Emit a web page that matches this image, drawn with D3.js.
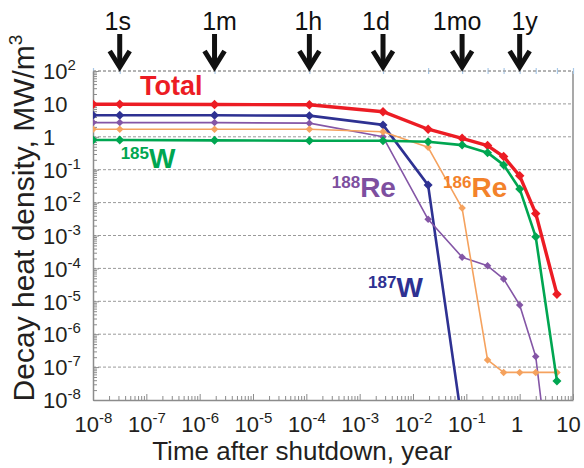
<!DOCTYPE html>
<html>
<head>
<meta charset="utf-8">
<script src="https://cdn.jsdelivr.net/npm/d3@7"></script>
<style>
  body { margin: 0; background: #fff; }
  svg { display: block; font-family: "Liberation Sans", Arial, sans-serif; }
</style>
</head>
<body>
<svg id="chart" width="584" height="468"></svg>
<script>
// time after shutdown (years): 0, 1 s, 1 min, 1 h, 1 d, 1 wk, 1 mo, 3 mo, 6 mo, 1 y, 2 y, 5 y
const timeYears = [1e-8, 3.17e-8, 1.9e-6, 1.14e-4, 2.74e-3, 1.92e-2, 8.33e-2, 0.25, 0.5, 1, 2, 5];

// decay heat density, MW/m3
const total = [9.8, 9.8, 9.6, 9.4, 5.8, 1.7, 0.9, 0.54, 0.25, 0.065, 0.0047, 1.65e-5];
const w187  = [4.5, 4.5, 4.5, 4.4, 2.3, 0.034, 2e-9];
const re188 = [2.7, 2.7, 2.7, 2.6, 1.0, 3.1e-3, 2.2e-4, 1.2e-4, 4.8e-5, 7.7e-6, 2.1e-7, 1e-12];
const re186 = [1.7, 1.7, 1.7, 1.7, 1.43, 0.48, 6.8e-3, 1.65e-7, 6.9e-8, 6.9e-8, 6.9e-8, 6.9e-8];
const w185  = [0.8, 0.8, 0.78, 0.76, 0.76, 0.71, 0.56, 0.33, 0.14, 0.026, 9.1e-4, 3.8e-8];

const markTimes  = [3.17e-8, 1.9e-6, 1.14e-4, 2.74e-3, 8.33e-2, 1];
const markLabels = ["1s", "1m", "1h", "1d", "1mo", "1y"];

const xDecades = [1e-8, 1e-7, 1e-6, 1e-5, 1e-4, 1e-3, 1e-2, 1e-1, 1, 10];
const yDecades = [1e-8, 1e-7, 1e-6, 1e-5, 1e-4, 1e-3, 1e-2, 1e-1, 1, 10, 100];

const series = [
  { name: "Total", values: total, color: "#ec1c24", width: 3.4, size: 9.5 },
  { name: "187W",  values: w187,  color: "#2e3192", width: 2.6, size: 9 },
  { name: "188Re", values: re188, color: "#8456a6", width: 1.6, size: 7.5 },
  { name: "186Re", values: re186, color: "#f5a25e", width: 1.6, size: 7.5 },
  { name: "185W",  values: w185,  color: "#00a651", width: 2.6, size: 9 }
];

// text annotations placed in data coordinates (x in years, y in MW/m3 at baseline)
const notes = [
  { sup: "",    main: "Total", x: 7.6e-8, y: 18.6,   color: "#ec1c24" },
  { sup: "185", main: "W",     x: 3.3e-8, y: 0.113,  color: "#00a651" },
  { sup: "188", main: "Re",    x: 3.0e-4, y: 0.0151, color: "#7d4f9f" },
  { sup: "186", main: "Re",    x: 0.0366, y: 0.0151, color: "#f3822a" },
  { sup: "187", main: "W",     x: 1.44e-3, y: 1.32e-5, color: "#2e3192" }
];
const arrowLabelDx = [-2, 5, -1, -7, -5, 5];

const plotL = 93, plotR = 573, plotT = 71, plotB = 400;
const svg = d3.select("#chart");

const x = d3.scaleLog().domain([1e-8, 10]).range([plotL, plotR]);
const y = d3.scaleLog().domain([1e-8, 100]).range([plotB, plotT]);

const grey = "#8c8c8c";
const ink = "#231f20";

// minor tick positions
const minors = [];
for (let e = -8; e < 2; e++) for (let k = 2; k <= 9; k++) minors.push(k * Math.pow(10, e));
const xMinors = minors.filter(v => v > 1e-8 && v < 10);
const yMinors = minors.filter(v => v > 1e-8 && v < 100);

// horizontal dashed grid
svg.append("g")
  .selectAll("line")
  .data(yDecades.filter(v => v > 1e-8))
  .enter().append("line")
  .attr("x1", plotL).attr("x2", plotR)
  .attr("y1", d => y(d)).attr("y2", d => y(d))
  .attr("stroke", "#9a9a9a")
  .attr("stroke-width", 1)
  .attr("stroke-dasharray", "3,2");

// right border
svg.append("line")
  .attr("x1", plotR).attr("x2", plotR).attr("y1", plotT).attr("y2", plotB)
  .attr("stroke", grey).attr("stroke-width", 1.5);

// top axis: light blue ticks at sample times
svg.append("g")
  .attr("transform", `translate(0,${plotT})`)
  .call(d3.axisTop(x).tickValues(timeYears.concat([10])).tickFormat(() => "").tickSize(3).tickSizeOuter(0))
  .call(g => g.select(".domain").remove())
  .call(g => g.selectAll(".tick line").attr("y2", -3).attr("y1", 3).attr("stroke", "#a9c9e8").attr("stroke-width", 1.2));

// minor ticks (separate groups so their empty labels stay untouched)
svg.append("g")
  .attr("transform", `translate(0,${plotB})`)
  .call(d3.axisBottom(x).tickValues(xMinors).tickFormat(() => "").tickSize(-4).tickSizeOuter(0))
  .call(g => g.select(".domain").remove())
  .call(g => g.selectAll(".tick line").attr("stroke", grey));
svg.append("g")
  .attr("transform", `translate(${plotL},0)`)
  .call(d3.axisLeft(y).tickValues(yMinors).tickFormat(() => "").tickSize(-4).tickSizeOuter(0))
  .call(g => g.select(".domain").remove())
  .call(g => g.selectAll(".tick line").attr("stroke", grey));

// bottom axis
const xAxis = svg.append("g").attr("transform", `translate(0,${plotB})`);
xAxis.call(d3.axisBottom(x).tickValues(xDecades).tickSize(-6).tickSizeOuter(0).tickFormat(d => d))
  .call(g => g.select(".domain").attr("stroke", grey).attr("stroke-width", 1.5))
  .call(g => g.selectAll(".tick line").attr("stroke", grey));

// left axis
const yAxis = svg.append("g").attr("transform", `translate(${plotL},0)`);
yAxis.call(d3.axisLeft(y).tickValues(yDecades).tickSize(-6).tickSizeOuter(0).tickFormat(d => d))
  .call(g => g.select(".domain").attr("stroke", grey).attr("stroke-width", 1.5))
  .call(g => g.selectAll(".tick line").attr("stroke", grey));

// top border dashed
svg.append("line")
  .attr("x1", plotL).attr("x2", plotR).attr("y1", plotT).attr("y2", plotT)
  .attr("stroke", "#9a9a9a").attr("stroke-dasharray", "3,2");

function powLabel(sel, v, supSize, supDy) {
  const e = Math.round(Math.log10(v));
  sel.text(null);
  if (e === 0) { sel.append("tspan").text("1"); return; }
  if (e === 1) { sel.append("tspan").text("10"); return; }
  sel.append("tspan").text("10");
  sel.append("tspan").attr("font-size", supSize).attr("dy", supDy).text(String(e));
}

xAxis.selectAll(".tick text")
  .attr("y", 32).attr("dy", 0)
  .attr("x", d => d >= 10 ? -5 : (d >= 1 ? -3 : 0))
  .attr("font-size", 22).attr("fill", ink)
  .attr("font-family", "Liberation Sans, Arial, sans-serif")
  .each(function(d) { powLabel(d3.select(this), d, 15, -9); });

yAxis.selectAll(".tick text")
  .attr("x", 43 - plotL).attr("dy", "0.35em")
  .attr("text-anchor", "start")
  .attr("font-size", 22).attr("fill", ink)
  .attr("font-family", "Liberation Sans, Arial, sans-serif")
  .each(function(d) { powLabel(d3.select(this), d, 15, -9); });

// axis titles
svg.append("text")
  .attr("x", 302).attr("y", 460)
  .attr("text-anchor", "middle")
  .attr("font-size", 26).attr("fill", ink)
  .text("Time after shutdown, year");

const yt = svg.append("text")
  .attr("transform", "translate(34,218) rotate(-90)")
  .attr("text-anchor", "middle")
  .attr("font-size", 30).attr("fill", ink);
yt.append("tspan").text("Decay heat density, MW/m");
yt.append("tspan").attr("font-size", 19).attr("dy", -12).text("3");

// data lines, clipped to plot
svg.append("clipPath").attr("id", "plotclip")
  .append("rect").attr("x", plotL).attr("y", plotT).attr("width", plotR - plotL).attr("height", plotB - plotT);

const line = d3.line().x(d => x(d[0])).y(d => y(d[1]));
const plot = svg.append("g").attr("clip-path", "url(#plotclip)");

series.forEach(s => {
  const pts = s.values.map((v, i) => [timeYears[i], v]);
  plot.append("path")
    .datum(pts)
    .attr("d", line)
    .attr("fill", "none")
    .attr("stroke", s.color)
    .attr("stroke-width", s.width)
    .attr("stroke-linejoin", "round");
  plot.selectAll(null)
    .data(pts)
    .enter().append("path")
    .attr("transform", d => `translate(${x(d[0])},${y(d[1])})`)
    .attr("d", `M0,${-s.size / 2}L${s.size / 2},0L0,${s.size / 2}L${-s.size / 2},0Z`)
    .attr("fill", s.color);
});

// species labels
notes.forEach(n => {
  const t = svg.append("text")
    .attr("x", x(n.x)).attr("y", y(n.y))
    .attr("fill", n.color)
    .attr("font-weight", "bold");
  if (n.sup) {
    t.append("tspan").attr("font-size", 17).attr("dy", -9).text(n.sup);
    t.append("tspan").attr("font-size", 28).attr("dy", 9).text(n.main);
  } else {
    t.append("tspan").attr("font-size", 27).text(n.main);
  }
});

// time marker arrows
const arrows = svg.append("g");
markTimes.forEach((t, i) => {
  const ax = x(t);
  arrows.append("text")
    .attr("x", ax + arrowLabelDx[i]).attr("y", 30)
    .attr("text-anchor", "middle")
    .attr("font-size", 25).attr("fill", "#111")
    .text(markLabels[i]);
  arrows.append("line")
    .attr("x1", ax).attr("x2", ax).attr("y1", 34).attr("y2", 66)
    .attr("stroke", "#111").attr("stroke-width", 5);
  arrows.append("path")
    .attr("d", `M${ax - 10},${51}L${ax},${67}L${ax + 10},${51}`)
    .attr("fill", "none").attr("stroke", "#111").attr("stroke-width", 5)
    .attr("stroke-linejoin", "miter");
});
</script>
</body>
</html>
